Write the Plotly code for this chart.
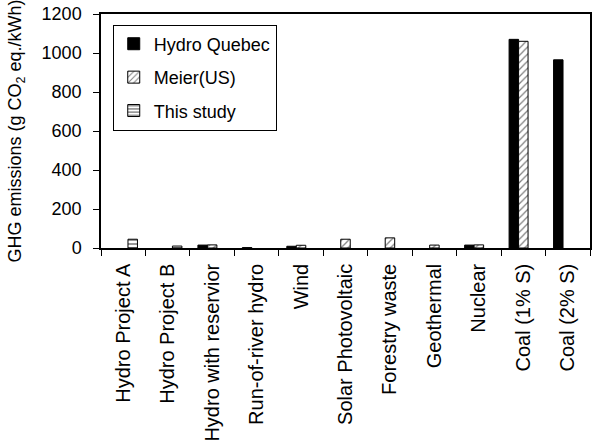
import plotly.graph_objects as go

# Life-cycle GHG emissions by generation option
categories = [
    "Hydro Project A", "Hydro Project B", "Hydro with reservior",
    "Run-of-river hydro", "Wind", "Solar Photovoltaic", "Forestry waste",
    "Geothermal", "Nuclear", "Coal (1% S)", "Coal (2% S)",
]
hydro_quebec = [None, None, 15, 2, 9, None, None, None, 15, 1070, 965]
meier_us = [None, None, 16, None, 14, 45, 52, 15, 16, 1060, None]
this_study = [45, 10, None, None, None, None, None, None, None, None, None]

FONT = "Liberation Sans, Arial, sans-serif"

fig = go.Figure()
fig.add_bar(
    name="Hydro Quebec", x=categories, y=hydro_quebec, legendgroup="a",
    marker=dict(color="black", line=dict(color="black", width=1)),
)
fig.add_bar(
    name="Meier(US)", x=categories, y=meier_us, legendgroup="b",
    marker=dict(color="white", line=dict(color="black", width=1),
                pattern=dict(shape="/", fgcolor="black", bgcolor="white",
                             size=5, solidity=0.25)),
)
fig.add_bar(
    name="This study", x=categories, y=this_study, legendgroup="c",
    marker=dict(color="white", line=dict(color="black", width=1),
                pattern=dict(shape="-", fgcolor="black", bgcolor="white",
                             size=4, solidity=0.4)),
)

fig.update_layout(
    width=592, height=442,
    margin=dict(l=101, r=2, t=14, b=194),
    paper_bgcolor="white", plot_bgcolor="white",
    font=dict(family=FONT, size=18, color="black"),
    barmode="group", bargap=0.36, bargroupgap=0,
    showlegend=True,
    legend=dict(
        x=0.024, y=0.955, xanchor="left", yanchor="top",
        bordercolor="black", borderwidth=1, bgcolor="white",
        font=dict(family=FONT, size=18, color="black"),
        tracegroupgap=7, itemwidth=30,
    ),
    xaxis=dict(
        type="category", tickangle=-90, tickson="boundaries",
        ticks="outside", ticklen=6, tickcolor="black",
        showline=True, linecolor="black", linewidth=1.5, mirror=True,
        showgrid=False, tickfont=dict(size=20), automargin=False,
        ticklabelstandoff=6,
    ),
    yaxis=dict(
        range=[0, 1200], dtick=200,
        ticks="outside", ticklen=6, tickcolor="black",
        showline=True, linecolor="black", linewidth=1.5, mirror=True,
        showgrid=False, zeroline=False, tickfont=dict(size=18),
        automargin=False, ticklabelstandoff=8,
        title=dict(text="GHG emissions (g CO<sub>2</sub> eq./kWh)",
                   font=dict(size=18)),
    ),
)

fig.write_html("out.html")
